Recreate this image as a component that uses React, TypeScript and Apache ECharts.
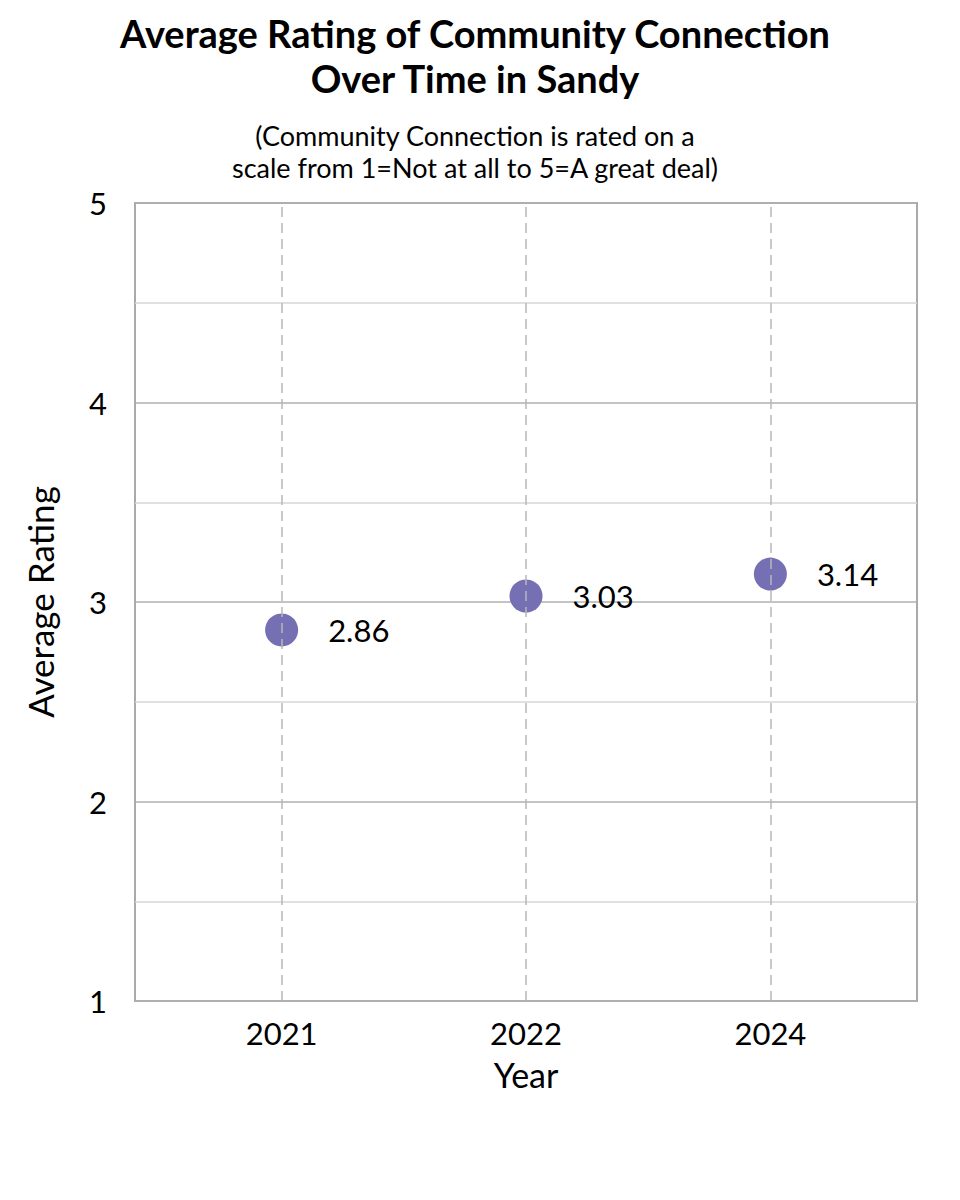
import { useEffect, useRef } from 'react';
import * as echarts from 'echarts';

const years = ['2021', '2022', '2024'];
const ratings = [2.86, 3.03, 3.14];
const yTicks = [1, 2, 3, 4, 5];

const FONT = 'Lato, "Open Sans", sans-serif';
const DOT = '#7570b3';

const App: React.FC = () => {
    const chartRef = useRef<HTMLDivElement>(null);

    useEffect(() => {
        if (!chartRef.current) return;
        const chart = echarts.init(chartRef.current, undefined, { renderer: 'svg' });

        const option: echarts.EChartsOption = {
            animation: false,
            backgroundColor: '#ffffff',
            textStyle: { fontFamily: FONT },
            title: [
                {
                    text: 'Average Rating of Community Connection\nOver Time in Sandy',
                    left: 470,
                    top: 5,
                    textAlign: 'center',
                    textStyle: {
                        fontFamily: FONT,
                        fontSize: 38,
                        fontWeight: 'bold',
                        color: '#000',
                        lineHeight: 45
                    }
                },
                {
                    text: '(Community Connection is rated on a\nscale from 1=Not at all to 5=A great deal)',
                    left: 470,
                    top: 114,
                    textAlign: 'center',
                    textStyle: {
                        fontFamily: FONT,
                        fontSize: 27,
                        fontWeight: 'normal',
                        color: '#000',
                        lineHeight: 32
                    }
                }
            ],
            grid: {
                left: 135,
                top: 203,
                width: 782,
                height: 798,
                show: true,
                borderColor: '#aaaaaa',
                borderWidth: 2,
                containLabel: false
            },
            xAxis: {
                type: 'value',
                min: -0.6,
                max: 2.6,
                name: 'Year',
                nameLocation: 'middle',
                nameGap: 56,
                nameTextStyle: { fontFamily: FONT, fontSize: 34, color: '#000' },
                axisLine: { show: false },
                axisTick: { show: false },
                splitLine: { show: false },
                axisLabel: {
                    customValues: years.map((_, i) => i),
                    formatter: (v: number) => years[Math.round(v)] ?? '',
                    fontFamily: FONT,
                    fontSize: 31,
                    color: '#000',
                    margin: 16
                }
            },
            yAxis: {
                type: 'value',
                min: yTicks[0],
                max: yTicks[yTicks.length - 1],
                interval: 0.5,
                name: 'Average Rating',
                nameLocation: 'middle',
                nameGap: 78,
                nameTextStyle: { fontFamily: FONT, fontSize: 35, color: '#000' },
                axisLine: { show: false },
                axisTick: { show: false },
                splitLine: {
                    show: true,
                    lineStyle: { color: ['#b0b0b0', '#d6d6d6'], width: 1.5 }
                },
                axisLabel: {
                    formatter: (v: number) => (Number.isInteger(v) ? String(v) : ''),
                    fontFamily: FONT,
                    fontSize: 31,
                    color: '#000',
                    margin: 28
                }
            },
            series: [
                {
                    type: 'scatter',
                    data: ratings.map((r, i) => [i, r]),
                    symbolSize: 33,
                    itemStyle: { color: DOT, opacity: 1 },
                    label: {
                        show: true,
                        position: 'right',
                        distance: 30,
                        formatter: (p: any) => p.value[1].toFixed(2),
                        fontFamily: FONT,
                        fontSize: 31,
                        color: '#000'
                    },
                    markLine: {
                        silent: true,
                        symbol: 'none',
                        label: { show: false },
                        lineStyle: { color: '#b8b8b8', type: [10, 6], width: 1.5 },
                        data: years.map((_, i) => ({ xAxis: i }))
                    },
                    z: 3
                }
            ]
        };

        chart.setOption(option);
        return () => chart.dispose();
    }, []);

    return (
        <div
            ref={chartRef}
            style={{ position: 'absolute', left: 0, top: 0, width: 960, height: 1200 }}
        />
    );
};

export default App;
